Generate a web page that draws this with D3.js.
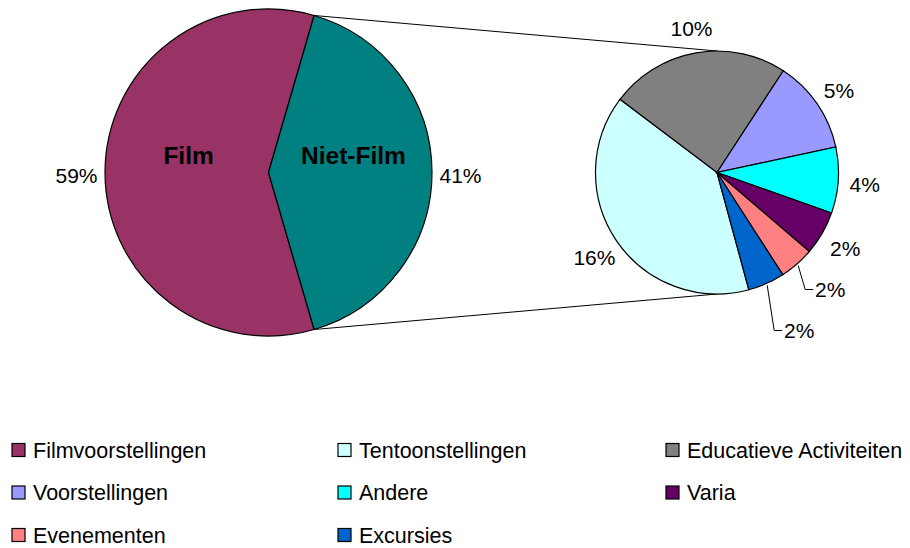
<!DOCTYPE html>
<html><head><meta charset="utf-8">
<script src="https://cdn.jsdelivr.net/npm/d3@7"></script>
<style>
html,body{margin:0;padding:0;background:#fff;}
svg{display:block;font-family:"Liberation Sans",Arial,sans-serif;}
</style></head>
<body><svg id="chart" width="910" height="548"></svg>
<script>
// ---- data ----
const mainCategories = ["Film", "Niet-Film"];
const filmValue = 59.0;
const subCategories = ["Tentoonstellingen", "Educatieve Activiteiten", "Voorstellingen", "Andere", "Varia", "Evenementen", "Excursies"];
const subValues = [16.2, 9.8, 5.1, 3.6, 2.4, 1.9, 2.0];
const legendLabels = ["Filmvoorstellingen", "Tentoonstellingen", "Educatieve Activiteiten", "Voorstellingen", "Andere", "Varia", "Evenementen", "Excursies"];
const colors = ["#993366", "#CCFFFF", "#808080", "#9999FF", "#00FFFF", "#660066", "#FF8080", "#0066CC"];
const nietFilmColor = "#008080";

const svg = d3.select("#chart");
const total = filmValue + d3.sum(subValues);
const mainValues = [filmValue, d3.sum(subValues)];
const pct = v => Math.round(v / total * 100) + "%";
const deg = Math.PI / 180;

// ---- geometry ----
const c1 = {x: 268.5, y: 172.5, r: 163.5};
const c2 = {x: 717, y: 172.5, r: 121.5};

// main pie: Niet-Film centred on the right
const nfAngle = mainValues[1] / total * 2 * Math.PI;
const mainStart = Math.PI / 2 + nfAngle / 2;
const mainPie = d3.pie().sort(null).startAngle(mainStart).endAngle(mainStart + 2 * Math.PI);
const mainArcs = mainPie(mainValues);
const arc1 = d3.arc().innerRadius(0).outerRadius(c1.r);

// sub pie
const subStart = 164.8 * deg;
const subPie = d3.pie().sort(null).startAngle(subStart).endAngle(subStart + 2 * Math.PI);
const subArcs = subPie(subValues);
const arc2 = d3.arc().innerRadius(0).outerRadius(c2.r);

// connector lines
const nfArc = mainArcs[1];
const pt = (c, r, a) => [c.x + r * Math.sin(a), c.y - r * Math.cos(a)];
const conn = [
  [pt(c1, c1.r, nfArc.startAngle), pt(c2, c2.r, 0)],
  [pt(c1, c1.r, nfArc.endAngle), pt(c2, c2.r, Math.PI)]
];
svg.selectAll("line.conn").data(conn).join("line").attr("class", "conn")
  .attr("x1", d => d[0][0]).attr("y1", d => d[0][1])
  .attr("x2", d => d[1][0]).attr("y2", d => d[1][1])
  .attr("stroke", "#000").attr("stroke-width", 1);

const g1 = svg.append("g").attr("transform", `translate(${c1.x},${c1.y})`);
g1.selectAll("path").data(mainArcs).join("path")
  .attr("d", arc1)
  .attr("fill", (d, i) => i === 0 ? colors[0] : nietFilmColor)
  .attr("stroke", "#000").attr("stroke-width", 1.2);

const g2 = svg.append("g").attr("transform", `translate(${c2.x},${c2.y})`);
g2.selectAll("path").data(subArcs).join("path")
  .attr("d", arc2)
  .attr("fill", (d, i) => colors[i + 1])
  .attr("stroke", "#000").attr("stroke-width", 1.2);

// category names inside the main pie
const innerLabelArc = d3.arc().innerRadius(c1.r * 0.55).outerRadius(c1.r * 0.55);
g1.selectAll("text.cat").data(mainArcs).join("text").attr("class", "cat")
  .attr("x", d => innerLabelArc.centroid(d)[0] + (d.index === 0 ? 10 : -5))
  .attr("y", -9)
  .attr("text-anchor", "middle")
  .attr("font-size", 24.5).attr("font-weight", "bold")
  .text((d, i) => mainCategories[i]);

// percent labels main pie
const mainLabelArc = d3.arc().innerRadius(192).outerRadius(192);
g1.selectAll("text.pct").data(mainArcs).join("text").attr("class", "pct")
  .attr("x", d => mainLabelArc.centroid(d)[0])
  .attr("y", d => mainLabelArc.centroid(d)[1] + 3)
  .attr("dy", "0.36em")
  .attr("text-anchor", "middle").attr("font-size", 21)
  .text(d => pct(d.value));

// percent labels sub pie with simple collision handling
const subLabelR = 148;
const labels = subArcs.map((d, i) => {
  const mid = (d.startAngle + d.endAngle) / 2;
  return {i, mid, value: d.value, x: subLabelR * Math.sin(mid), y: -subLabelR * Math.cos(mid) + 2, pushed: false};
});
const minGap = 41;
let prev = null;
labels.forEach(l => {
  const a = ((l.mid % (2 * Math.PI)) + 2 * Math.PI) % (2 * Math.PI);
  if (a > Math.PI / 2 && a < Math.PI) {
    if (prev && l.y < prev.y + minGap) {
      l.y = prev.y + minGap;
      l.pushed = true;
      const e = [(c2.r + 2) * Math.sin(l.mid), -(c2.r + 2) * Math.cos(l.mid)];
      l.edge = e;
      l.x = e[0] + 17 + 15;
    }
    prev = l;
  }
});
g2.selectAll("polyline.leader").data(labels.filter(l => l.pushed)).join("polyline")
  .attr("class", "leader")
  .attr("points", l => [l.edge, [l.x - 25, l.y], [l.x - 17, l.y]].map(p => p.join(",")).join(" "))
  .attr("fill", "none").attr("stroke", "#000").attr("stroke-width", 1);
g2.selectAll("text.pct").data(labels).join("text").attr("class", "pct")
  .attr("x", l => l.x).attr("y", l => l.y).attr("dy", "0.36em")
  .attr("text-anchor", "middle").attr("font-size", 21)
  .text(l => pct(l.value));

// legend
const colX = [12, 338, 666];
const rowY = [450, 492.5, 535];
const leg = svg.append("g");
const items = leg.selectAll("g").data(legendLabels).join("g")
  .attr("transform", (d, i) => `translate(${colX[i % 3]},${rowY[Math.floor(i / 3)]})`);
items.append("rect").attr("x", 0).attr("y", -6.5).attr("width", 13).attr("height", 13)
  .attr("fill", (d, i) => colors[i]).attr("stroke", "#000").attr("stroke-width", 1.2);
items.append("text").attr("x", 21).attr("y", 0).attr("dy", "0.36em")
  .attr("font-size", 21.5).text(d => d);
</script></body></html>
